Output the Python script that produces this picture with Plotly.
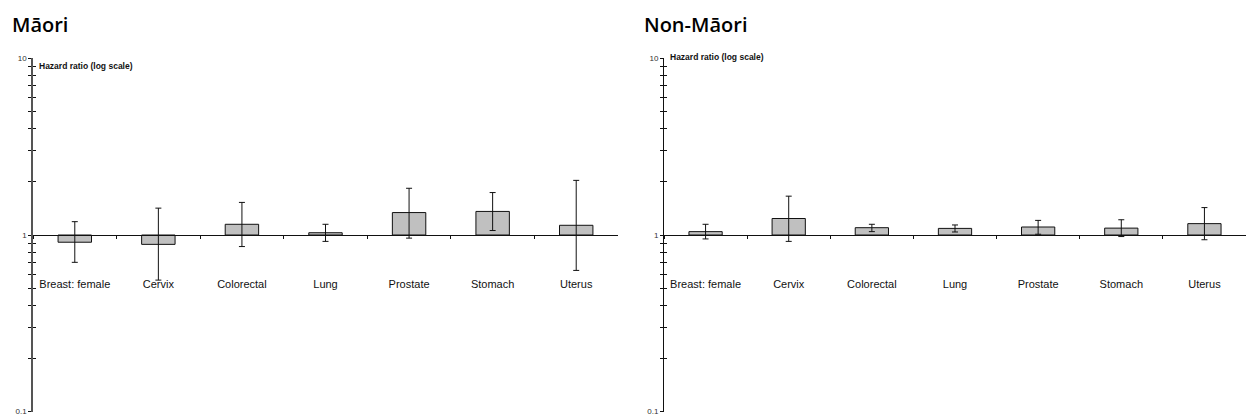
import plotly.graph_objects as go

categories = ["Breast: female", "Cervix", "Colorectal", "Lung", "Prostate", "Stomach", "Uterus"]

maori_hr = [0.91, 0.885, 1.15, 1.03, 1.34, 1.36, 1.135]
maori_lo = [0.70, 0.555, 0.86, 0.92, 0.96, 1.06, 0.63]
maori_hi = [1.19, 1.42, 1.53, 1.15, 1.84, 1.74, 2.04]

nonmaori_hr = [1.045, 1.24, 1.10, 1.09, 1.11, 1.094, 1.16]
nonmaori_lo = [0.95, 0.92, 1.045, 1.04, 1.01, 0.98, 0.94]
nonmaori_hi = [1.15, 1.66, 1.15, 1.14, 1.21, 1.22, 1.43]

panel_titles = ["Māori", "Non-Māori"]
y_title = "Hazard ratio (log scale)"
major_vals = [0.1, 1, 10]
major_text = ["0.1", "1", "10"]
minor_vals = [0.2, 0.3, 0.4, 0.5, 0.6, 0.7, 0.8, 0.9, 2, 3, 4, 5, 6, 7, 8, 9]

W, H = 1246, 416
FONT = "Liberation Sans, Arial, sans-serif"
YR = [-1.003, 1.003]

fig = go.Figure()

panels = [
    (maori_hr, maori_lo, maori_hi, "x", "y", "y3"),
    (nonmaori_hr, nonmaori_lo, nonmaori_hi, "x2", "y2", "y4"),
]
for hr, lo, hi, xa, ya, yo in panels:
    fig.add_trace(go.Bar(
        x=categories, y=[v - 1 for v in hr], base=[1] * len(hr),
        xaxis=xa, yaxis=ya, width=0.4,
        marker=dict(color="#c0c0c0", line=dict(color="#111111", width=1)),
        hoverinfo="skip",
    ))
    fig.add_trace(go.Scatter(
        x=categories, y=hr, xaxis=xa, yaxis=yo, mode="markers",
        marker=dict(opacity=0, size=1),
        error_y=dict(type="data", symmetric=False,
                     array=[h - v for h, v in zip(hi, hr)],
                     arrayminus=[v - l for v, l in zip(hr, lo)],
                     color="#111111", thickness=1, width=3),
        hoverinfo="skip",
    ))

def yaxis_main(linecolor, linewidth):
    return dict(
        type="log", range=YR, domain=[0, 1], showgrid=False, zeroline=False,
        showline=True, linecolor=linecolor, linewidth=linewidth,
        tickmode="array", tickvals=major_vals, ticktext=major_text,
        ticks="outside", ticklen=3, tickwidth=1, tickcolor="#111",
        tickfont=dict(family=FONT, size=8, color="#333"),
        ticklabeloverflow="allow",
        minor=dict(tickvals=minor_vals, ticks="outside", ticklen=3, tickwidth=1, tickcolor="#111"),
        fixedrange=True,
    )

def yaxis_overlay(over, anchor):
    return dict(
        type="log", range=YR, domain=[0, 1], overlaying=over, anchor=anchor,
        showgrid=False, zeroline=False, showline=False, showticklabels=False,
        tickmode="array", tickvals=major_vals,
        ticks="inside", ticklen=3, tickwidth=1, tickcolor="#111",
        minor=dict(tickvals=minor_vals, ticks="inside", ticklen=3, tickwidth=1, tickcolor="#111"),
        fixedrange=True,
    )

def xaxis(domain):
    return dict(
        type="category", range=[-0.5, 6.5], domain=domain,
        anchor="free", position=0.5,
        showgrid=False, zeroline=False, showline=True, linecolor="#111", linewidth=1,
        ticks="outside", tickson="boundaries", ticklen=3, tickcolor="#111",
        tickfont=dict(family=FONT, size=11, color="#111"),
        ticklabelstandoff=39, fixedrange=True,
    )

fig.update_layout(
    width=W, height=H, autosize=False,
    margin=dict(l=0, r=0, t=58, b=4, pad=0),
    paper_bgcolor="white", plot_bgcolor="white",
    showlegend=False, bargap=0.6,
    xaxis=xaxis([33 / W, 618 / W]),
    xaxis2=xaxis([664 / W, 1.0]),
    yaxis=dict(anchor="x", **yaxis_main("#555", 1.5)),
    yaxis2=dict(anchor="x2", **yaxis_main("#111", 1)),
    yaxis3=yaxis_overlay("y", "x"),
    yaxis4=yaxis_overlay("y2", "x2"),
)

ph = H - 58 - 4
# panel titles
for title, px in zip(panel_titles, [10, 642]):
    fig.add_annotation(
        text=title, xref="paper", yref="paper", x=px / W, y=1 + (58 - 24) / ph,
        xanchor="left", yanchor="middle", showarrow=False,
        font=dict(family="Open Sans, sans-serif", size=20, color="#000", weight=600),
    )
# y-axis titles
for px, py in [(37, 66), (668, 57)]:
    fig.add_annotation(
        text="<b>" + y_title + "</b>", xref="paper", yref="paper",
        x=px / W, y=1 - (py - 58) / ph, xanchor="left", yanchor="middle",
        showarrow=False, font=dict(family=FONT, size=8.5, color="#111"),
    )

fig.write_html("out.html")
